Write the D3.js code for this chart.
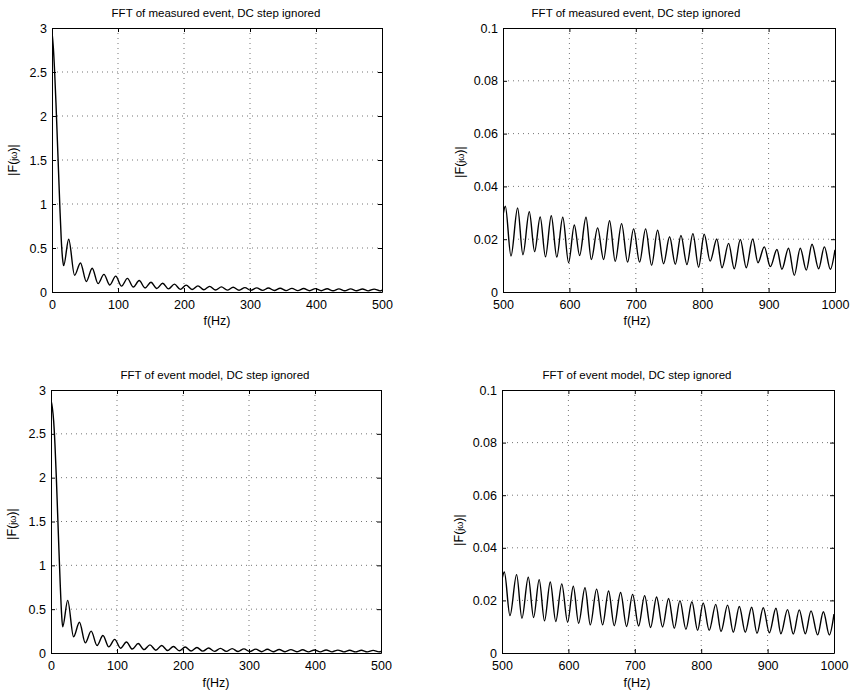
<!DOCTYPE html>
<html><head><meta charset="utf-8">
<script src="https://cdn.jsdelivr.net/npm/d3@7"></script>
<style>
body{margin:0;background:#fff;}
svg{display:block;}
text{font-family:"Liberation Sans",Arial,Helvetica,sans-serif;fill:#000;}
</style></head><body>
<svg id="chart" width="854" height="693"></svg>
<script>
// ---------- tick labels ----------
const lowTicksX = [0,100,200,300,400,500];
const lowTickLabelsX = ["0","100","200","300","400","500"];
const lowTicksY = [0,0.5,1,1.5,2,2.5,3];
const lowTickLabelsY = ["0","0.5","1","1.5","2","2.5","3"];
const highTicksX = [500,600,700,800,900,1000];
const highTickLabelsX = ["500","600","700","800","900","1000"];
const highTicksY = [0,0.02,0.04,0.06,0.08,0.1];
const highTickLabelsY = ["0","0.02","0.04","0.06","0.08","0.1"];

const titles = ["FFT of measured event, DC step ignored","FFT of measured event, DC step ignored",
                "FFT of event model, DC step ignored","FFT of event model, DC step ignored"];

// ---------- data: 0-500 Hz (main lobe, then side-lobe peaks/troughs) ----------
const lowFreq = [0,2,4,6,8,10,12,14,16,17.7,
  25.3,34.2, 43.1,52.0, 60.9,69.8, 78.7,87.6, 96.5,105.4, 114.3,123.2, 132.1,141.0,
  149.9,158.8, 167.7,176.6, 185.5,194.4, 203.3,212.2, 221.1,230.0, 238.9,247.8,
  256.7,265.6, 274.5,283.4, 292.3,301.2, 310.1,319.0, 327.9,336.8, 345.7,354.6,
  363.5,372.4, 381.3,390.2, 399.1,408.0, 416.9,425.8, 434.7,443.6, 452.5,461.4,
  470.3,479.2, 488.1,497.0, 500];
const measuredLow = [2.95,2.78,2.5,2.15,1.75,1.35,0.95,0.6,0.38,0.3,
  0.6,0.19, 0.33,0.12, 0.27,0.095, 0.2,0.08, 0.18,0.067, 0.155,0.056, 0.13,0.046,
  0.11,0.04, 0.1,0.035, 0.09,0.03, 0.078,0.028, 0.07,0.025, 0.064,0.023,
  0.058,0.021, 0.054,0.02, 0.05,0.019, 0.047,0.018, 0.045,0.017, 0.043,0.016,
  0.041,0.016, 0.039,0.015, 0.038,0.015, 0.037,0.014, 0.036,0.014, 0.035,0.014,
  0.034,0.013, 0.033,0.013, 0.02];
const modelLow = [2.88,2.8,2.65,2.38,2.02,1.6,1.18,0.78,0.45,0.3,
  0.6,0.185, 0.35,0.115, 0.25,0.085, 0.2,0.07, 0.155,0.055, 0.125,0.045, 0.108,0.038,
  0.093,0.032, 0.085,0.028, 0.075,0.025, 0.068,0.023, 0.062,0.021, 0.057,0.019,
  0.053,0.018, 0.05,0.017, 0.047,0.016, 0.044,0.015, 0.042,0.015, 0.04,0.014,
  0.038,0.014, 0.037,0.013, 0.035,0.013, 0.034,0.013, 0.033,0.013, 0.032,0.013,
  0.031,0.013, 0.03,0.013, 0.018];

// ---------- data: 500-1000 Hz (peaks/troughs) ----------
const highFreq = [500,
  503.5,512, 522,530, 539.6,547.6, 556,564, 572.7,581, 590,598.8, 607.4,615.4,
  625,633, 642.5,651.5, 660.5,669, 678.6,687.6, 696.7,705.7, 714.8,723.8,
  732.8,741.8, 750.9,759.5, 768,777, 786,794.6, 803,812, 822,829.8, 839.8,848.3,
  857.4,866.4, 876,884, 893.5,902.6, 912.6,920, 930,938.7, 947.7,956.8,
  965.4,975.3, 984,993, 1000];
const measuredHigh = [0.029,
  0.0325,0.0136, 0.0318,0.0141, 0.0304,0.0153, 0.0284,0.0133, 0.0289,0.0132, 0.0283,0.0111, 0.0254,0.0138,
  0.0283,0.0123, 0.0243,0.0123, 0.027,0.0116, 0.0259,0.0113, 0.0239,0.0113, 0.0239,0.0101,
  0.0234,0.0107, 0.0209,0.0105, 0.0214,0.0104, 0.0221,0.0094, 0.0219,0.0117, 0.0201,0.0092, 0.0184,0.0088,
  0.0199,0.0092, 0.0201,0.0111, 0.0171,0.0096, 0.0161,0.0086, 0.0166,0.0063, 0.0166,0.0083,
  0.0181,0.0088, 0.0171,0.0086, 0.016];
const modelHigh = [0.028,
  0.0308,0.0142, 0.0298,0.0132, 0.0288,0.0135, 0.0279,0.0122, 0.027,0.012, 0.0263,0.0117, 0.0254,0.0113,
  0.0248,0.0107, 0.0243,0.0107, 0.0236,0.0104, 0.023,0.0101, 0.0223,0.0103, 0.0218,0.0097,
  0.0213,0.0099, 0.0207,0.0094, 0.0199,0.009, 0.0195,0.0086, 0.019,0.0086, 0.0185,0.0082, 0.0182,0.0079,
  0.0177,0.0079, 0.0174,0.0075, 0.0172,0.0077, 0.017,0.0073, 0.0165,0.0072, 0.0164,0.0073,
  0.016,0.0069, 0.0157,0.0069, 0.0148];

// ---------- drawing ----------
const svg = d3.select("#chart");
svg.append("rect").attr("width",854).attr("height",693).attr("fill","#fff");

const panels = [
  {box:[52,382,28,292], xd:[0,500], yd:[0,3], xt:lowTicksX, xl:lowTickLabelsX, yt:lowTicksY, yl:lowTickLabelsY,
   f:lowFreq, m:measuredLow, title:titles[0], tx:216, ty:17, lx:217, ly:325, ylx:17, yly:160},
  {box:[503,835,28,292], xd:[500,1000], yd:[0,0.1], xt:highTicksX, xl:highTickLabelsX, yt:highTicksY, yl:highTickLabelsY,
   f:highFreq, m:measuredHigh, title:titles[1], tx:636, ty:17, lx:637, ly:325, ylx:464, yly:162},
  {box:[51,381,390,653], xd:[0,500], yd:[0,3], xt:lowTicksX, xl:lowTickLabelsX, yt:lowTicksY, yl:lowTickLabelsY,
   f:lowFreq, m:modelLow, title:titles[2], tx:215, ty:379, lx:216, ly:687, ylx:16, yly:524},
  {box:[502,834,390,653], xd:[500,1000], yd:[0,0.1], xt:highTicksX, xl:highTickLabelsX, yt:highTicksY, yl:highTickLabelsY,
   f:highFreq, m:modelHigh, title:titles[3], tx:637, ty:379, lx:637, ly:687, ylx:463, yly:530}
];

panels.forEach((p,idx)=>{
  const [x0,x1,y0,y1] = p.box;
  const x = d3.scaleLinear().domain(p.xd).range([x0,x1]);
  const y = d3.scaleLinear().domain(p.yd).range([y1,y0]);
  const g = svg.append("g");
  const w = x1-x0, h = y1-y0;

  // grid (dotted)
  const grid = g.append("g").attr("stroke","#333").attr("stroke-width",0.9)
     .attr("stroke-dasharray","1,4").attr("opacity",0.75);
  p.xt.slice(1,-1).forEach(v=>{
    grid.append("line").attr("x1",x(v)).attr("x2",x(v)).attr("y1",y0).attr("y2",y1);
  });
  p.yt.slice(1,-1).forEach(v=>{
    grid.append("line").attr("x1",x0).attr("x2",x1).attr("y1",y(v)).attr("y2",y(v));
  });

  // data line
  const clipId = "clip"+idx;
  svg.append("clipPath").attr("id",clipId).append("rect")
     .attr("x",x0).attr("y",y0-1).attr("width",w).attr("height",h+1);
  const pts = p.f.map((fv,i)=>[fv,p.m[i]]);
  g.append("path").datum(pts)
   .attr("clip-path","url(#"+clipId+")")
   .attr("fill","none").attr("stroke","#000").attr("stroke-width",1.4)
   .attr("d", d3.line().x(d=>x(d[0])).y(d=>y(d[1])).curve(d3.curveMonotoneX));

  // axes with inward ticks
  const fs = "12.5px";
  const ax = g.append("g").attr("transform",`translate(0,${y1})`)
    .call(d3.axisBottom(x).tickValues(p.xt).tickSize(-4).tickSizeOuter(0).tickPadding(8)
          .tickFormat((d,i)=>p.xl[i]));
  const ay = g.append("g").attr("transform",`translate(${x0},0)`)
    .call(d3.axisLeft(y).tickValues(p.yt).tickSize(-4).tickSizeOuter(0).tickPadding(5)
          .tickFormat((d,i)=>p.yl[i]));
  const at = g.append("g").attr("transform",`translate(0,${y0})`)
    .call(d3.axisTop(x).tickValues(p.xt).tickSize(-4).tickSizeOuter(0).tickFormat(""));
  const ar = g.append("g").attr("transform",`translate(${x1},0)`)
    .call(d3.axisRight(y).tickValues(p.yt).tickSize(-4).tickSizeOuter(0).tickFormat(""));
  [ax,ay,at,ar].forEach(a=>{
    a.selectAll("path,line").attr("stroke","#000").attr("stroke-width",1);
    a.selectAll("text").attr("font-size",fs).attr("fill","#000")
      .attr("font-family",'"Liberation Sans",Arial,sans-serif');
  });

  // title
  svg.append("text").attr("x",p.tx).attr("y",p.ty).attr("text-anchor","middle")
     .attr("font-size","11.5px").text(p.title);
  // x label
  svg.append("text").attr("x",p.lx).attr("y",p.ly).attr("text-anchor","middle")
     .attr("font-size","12.5px").text("f(Hz)");
  // y label
  const yl = svg.append("text").attr("transform",`translate(${p.ylx},${p.yly}) rotate(-90)`)
     .attr("text-anchor","middle").attr("font-size","12.5px");
  yl.append("tspan").text("|F(");
  yl.append("tspan").attr("font-size","9px").text("jω");
  yl.append("tspan").text(")|");
});
</script>
</body></html>
